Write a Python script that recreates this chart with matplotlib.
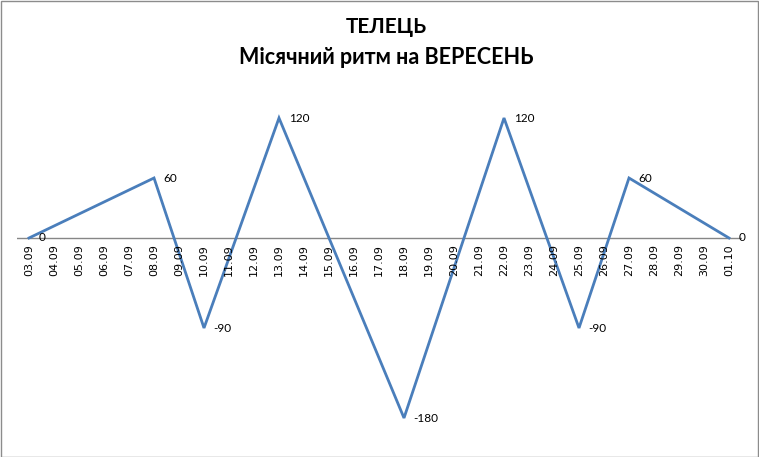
import matplotlib
matplotlib.use("Agg")
import matplotlib.pyplot as plt
import matplotlib.transforms as mtransforms
from matplotlib.patches import Rectangle

DATES = ["03.09", "04.09", "05.09", "06.09", "07.09", "08.09", "09.09", "10.09",
         "11.09", "12.09", "13.09", "14.09", "15.09", "16.09", "17.09", "18.09",
         "19.09", "20.09", "21.09", "22.09", "23.09", "24.09", "25.09", "26.09",
         "27.09", "28.09", "29.09", "30.09", "01.10"]
PEAK_DATES = ["03.09", "08.09", "10.09", "13.09", "18.09", "22.09", "25.09", "27.09", "01.10"]
PEAK_VALUES = [0, 60, -90, 120, -180, 120, -90, 60, 0]

W, H = 759, 457
fig = plt.figure(figsize=(W / 100, H / 100), dpi=100)
fig.patches.append(Rectangle((0.5 / W, 0.5 / H), 1 - 1.5 / W, 1 - 1.5 / H,
                             transform=fig.transFigure, fill=False,
                             edgecolor="#8c8c8c", linewidth=1))

# plot area in pixels
left, right, top, bottom = 16.5, 741.5, 88, 438
ax = fig.add_axes([left / W, 1 - bottom / H, (right - left) / W, (bottom - top) / H])

xs = [DATES.index(d) for d in PEAK_DATES]
ax.plot(xs, PEAK_VALUES, color="#4a7ebb", linewidth=2.0, solid_joinstyle="miter")
for x, v in zip(xs, PEAK_VALUES):
    ax.annotate(f"{v}", (x, v), xytext=(7, 0), textcoords="offset points",
                va="center", ha="left", fontsize=8.5, family="Lato", color="#000000")

ax.set_xlim(-0.5, len(DATES) - 0.5)
ax.set_ylim(-200, 150)
ax.axhline(0, color="#868686", linewidth=1, zorder=0)
for s in ax.spines.values():
    s.set_visible(False)
ax.set_xticks([])
ax.set_yticks([])

# category labels hang just below the zero line
off = mtransforms.offset_copy(ax.transData, fig=fig, x=0, y=-6, units="dots")
for i, d in enumerate(DATES):
    ax.text(i, 0, d, transform=off, rotation=90, ha="center", va="top",
            fontsize=8, color="#000000")

fig.text(386 / W, 1 - 27 / H, "ТЕЛЕЦЬ", ha="center", va="center",
         fontsize=15, fontweight="bold", family="Lato")
fig.text(386 / W, 1 - 57 / H, "Місячний ритм на ВЕРЕСЕНЬ", ha="center", va="center",
         fontsize=15.5, fontweight="bold", family="Lato")

fig.savefig("out.png", dpi=100)
